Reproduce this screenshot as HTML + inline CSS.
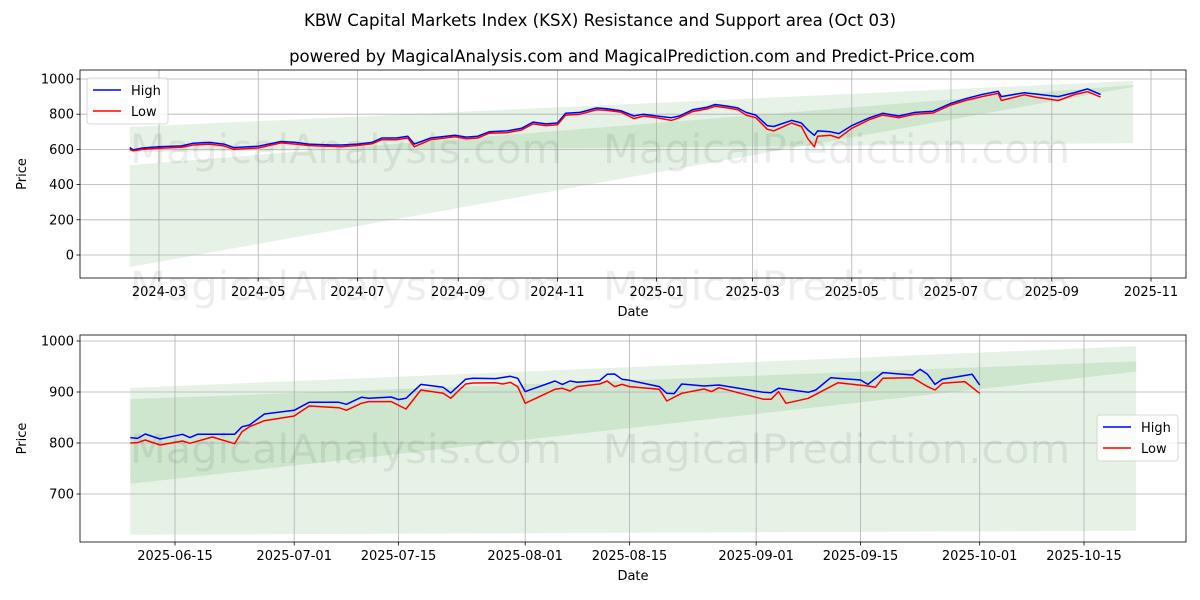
<!DOCTYPE html>
<html><head><meta charset="utf-8"><style>
html,body{margin:0;padding:0;background:#fff;}
svg{display:block;font-family:"DejaVu Sans","Liberation Sans",sans-serif;}
</style></head><body>
<svg id="chart" width="1200" height="600" viewBox="0 0 1200 600" xmlns="http://www.w3.org/2000/svg">
<rect width="1200" height="600" fill="#fff"/>
<text x="600" y="26" text-anchor="middle" font-size="16.6" fill="#000">KBW Capital Markets Index (KSX) Resistance and Support area (Oct 03)</text>
<text x="632" y="62" text-anchor="middle" font-size="16.5" fill="#000">powered by MagicalAnalysis.com and MagicalPrediction.com and Predict-Price.com</text>
<g id="top"></g>
<g id="bot"></g>
</svg>
<script>
// ---- Top panel data ----
const topDates=["2024-02-12","2024-02-14","2024-02-20","2024-03-01","2024-03-15","2024-03-22","2024-04-01","2024-04-10","2024-04-16","2024-04-25","2024-05-01","2024-05-15","2024-05-24","2024-06-01","2024-06-15","2024-06-21","2024-07-01","2024-07-10","2024-07-16","2024-07-25","2024-08-01","2024-08-05","2024-08-15","2024-08-30","2024-09-06","2024-09-13","2024-09-20","2024-10-01","2024-10-10","2024-10-17","2024-10-25","2024-11-01","2024-11-06","2024-11-15","2024-11-25","2024-12-01","2024-12-10","2024-12-18","2024-12-24","2025-01-01","2025-01-10","2025-01-15","2025-01-23","2025-02-01","2025-02-06","2025-02-14","2025-02-20","2025-02-25","2025-03-03","2025-03-10","2025-03-14","2025-03-25","2025-03-31","2025-04-04","2025-04-08","2025-04-10","2025-04-18","2025-04-23","2025-05-01","2025-05-12","2025-05-20","2025-05-30","2025-06-09","2025-06-20","2025-07-01","2025-07-10","2025-07-20","2025-07-30","2025-08-01","2025-08-15","2025-08-22","2025-09-05","2025-09-15","2025-09-23","2025-10-01"];
const topHigh=[610,598,608,615,620,635,640,630,610,615,618,645,640,630,625,625,630,640,665,665,675,630,665,680,670,675,700,705,720,755,745,750,805,810,835,832,820,790,800,790,780,790,825,840,855,845,835,810,795,735,730,765,750,710,680,705,700,690,735,780,805,790,810,817,862,888,912,930,900,922,915,900,923,944,912];
const topLow=[600,592,600,607,612,625,630,620,600,605,608,637,630,622,617,615,622,632,655,655,665,615,655,672,660,665,692,695,710,745,735,740,795,800,825,822,812,775,790,780,765,780,815,830,845,835,825,795,780,715,705,750,730,660,615,675,680,665,720,770,795,780,800,807,852,878,900,918,878,910,897,878,912,928,897];
const topBandDates=["2024-02-12","2025-10-21"];
const topBandAUpper=[727,989];
const topBandALower=[585,636];
const topBandBUpper=[511,966];
const topBandBLower=[-68,955];
const topYTicks=[0,200,400,600,800,1000];
const topXTicks=["2024-03-01","2024-05-01","2024-07-01","2024-09-01","2024-11-01","2025-01-01","2025-03-01","2025-05-01","2025-07-01","2025-09-01","2025-11-01"];
const topXLabels=["2024-03","2024-05","2024-07","2024-09","2024-11","2025-01","2025-03","2025-05","2025-07","2025-09","2025-11"];
// ---- Bottom panel data ----
const highDates=["2025-06-09","2025-06-10","2025-06-11","2025-06-13","2025-06-16","2025-06-17","2025-06-18","2025-06-23","2025-06-24","2025-06-25","2025-06-27","2025-07-01","2025-07-03","2025-07-07","2025-07-08","2025-07-10","2025-07-11","2025-07-14","2025-07-15","2025-07-16","2025-07-18","2025-07-21","2025-07-22","2025-07-24","2025-07-25","2025-07-28","2025-07-30","2025-07-31","2025-08-01","2025-08-05","2025-08-06","2025-08-07","2025-08-08","2025-08-11","2025-08-12","2025-08-13","2025-08-14","2025-08-15","2025-08-19","2025-08-20","2025-08-21","2025-08-22","2025-08-25","2025-08-27","2025-09-02","2025-09-03","2025-09-04","2025-09-08","2025-09-09","2025-09-11","2025-09-15","2025-09-16","2025-09-18","2025-09-22","2025-09-23","2025-09-24","2025-09-25","2025-09-26","2025-09-30","2025-10-01"];
const highVals=[810.5,809,817.7,807.9,817,810.5,817,817,832,835.3,856.9,864.1,879.8,879.8,875.9,889.6,887.6,890.2,885,887.6,915,909.2,898.1,924.9,926.8,926.2,930.8,926.8,900.7,921.6,915,921.6,919,922.3,934.7,935.3,924.9,922.9,910.5,897.4,896.8,915.7,911.8,913.8,899.4,898.7,907.2,899.4,904,928.1,923.6,915,938,933.4,944.5,934.7,915,924.9,934.7,913.8];
const lowDates=["2025-06-09","2025-06-10","2025-06-11","2025-06-13","2025-06-16","2025-06-17","2025-06-20","2025-06-23","2025-06-24","2025-06-25","2025-06-27","2025-07-01","2025-07-03","2025-07-07","2025-07-08","2025-07-10","2025-07-11","2025-07-14","2025-07-16","2025-07-18","2025-07-21","2025-07-22","2025-07-24","2025-07-25","2025-07-28","2025-07-29","2025-07-30","2025-07-31","2025-08-01","2025-08-05","2025-08-06","2025-08-07","2025-08-08","2025-08-11","2025-08-12","2025-08-13","2025-08-14","2025-08-15","2025-08-19","2025-08-20","2025-08-22","2025-08-25","2025-08-26","2025-08-27","2025-09-02","2025-09-03","2025-09-04","2025-09-05","2025-09-08","2025-09-12","2025-09-16","2025-09-17","2025-09-18","2025-09-22","2025-09-24","2025-09-25","2025-09-26","2025-09-29","2025-10-01"];
const lowVals=[800,800.7,805.9,796.1,804,799.4,811.8,798.7,822.3,832,843.8,853,872.6,869.3,864.1,877.8,881.1,881.1,866.7,904,897.4,887.6,915.7,917.7,918.3,915.7,919,910.5,877.8,905.3,907.2,902,910.5,915.7,921.6,910.5,915,910.5,905.3,882.4,897.4,905.9,900.7,908.5,885.7,885.7,900.7,877.8,887.6,918.3,911.8,909.2,926.8,928.1,910.5,904,917,920.3,897.4];
const botBandDates=["2025-06-09","2025-10-22"];
const botBandAUpper=[908,990];
const botBandALower=[620,628];
const botBandBUpper=[886,960];
const botBandBLower=[720,940];
const botYTicks=[700,800,900,1000];
const botXTicks=["2025-06-15","2025-07-01","2025-07-15","2025-08-01","2025-08-15","2025-09-01","2025-09-15","2025-10-01","2025-10-15"];

const NS="http://www.w3.org/2000/svg";
const DAY=86400000;
const t=s=>Date.parse(s+"T00:00:00Z");
function mk(tag,attrs,parent){const e=document.createElementNS(NS,tag);for(const k in attrs)e.setAttribute(k,attrs[k]);parent.appendChild(e);return e;}

function panel(g,cfg){
  const {L,R,T,B,x0,px0,pxPerDay,v0,py0,pxPerUnit}=cfg;
  const X=d=>px0+(t(d)-t(x0))/DAY*pxPerDay;
  const Y=v=>py0-(v-v0)*pxPerUnit;
  function band(dates,up,lo,name){
    const p=`M${X(dates[0])},${Y(up[0])} L${X(dates[1])},${Y(up[1])} L${X(dates[1])},${Y(lo[1])} L${X(dates[0])},${Y(lo[0])} Z`;
    const e=mk('path',{d:p,fill:'green','fill-opacity':0.1},g);
    
    
  }
  band(cfg.bandDates,cfg.aU,cfg.aL,'resistance-band');
  band(cfg.bandDates,cfg.bU,cfg.bL,'support-band');
  cfg.yTicks.forEach(v=>{
    const y=Y(v);
    const gl=mk('line',{x1:L,x2:R,y1:y,y2:y,stroke:'#b0b0b0','stroke-width':0.8},g);
    
    
    mk('line',{x1:L-3.5,x2:L,y1:y,y2:y,stroke:'#000','stroke-width':0.8},g);
    const tx=mk('text',{x:L-6,y:y+4.5,'text-anchor':'end','font-size':13},g);
    tx.textContent=v;
    
    
  });
  cfg.xTicks.forEach((d,i)=>{
    const x=X(d);
    const gl=mk('line',{x1:x,x2:x,y1:T,y2:B,stroke:'#b0b0b0','stroke-width':0.8},g);
    
    
    mk('line',{x1:x,x2:x,y1:B,y2:B+3.5,stroke:'#000','stroke-width':0.8},g);
    const tx=mk('text',{x:x,y:B+18,'text-anchor':'middle','font-size':13},g);
    tx.textContent=cfg.xLabels?cfg.xLabels[i]:d;
    
    
  });
  cfg.wm.forEach(w=>{
    const tx=mk('text',{x:w[0],y:w[1],'font-size':40,fill:'#000','fill-opacity':0.07,textLength:w[3],lengthAdjust:'spacingAndGlyphs'},g);
    tx.textContent=w[2];
    
    
  });
  function line(dates,vals,color,name){
    const d=dates.map((s,i)=>(i?'L':'M')+X(s).toFixed(1)+','+Y(vals[i]).toFixed(1)).join(' ');
    const e=mk('path',{d:d,fill:'none',stroke:color,'stroke-width':1.5,'stroke-linejoin':'round'},g);
    
    
  }
  line(cfg.hD,cfg.hV,'#0000ff','high-line');
  line(cfg.lD,cfg.lV,'#ff0000','low-line');
  const fr=mk('rect',{x:L,y:T,width:R-L,height:B-T,fill:'none',stroke:'#000','stroke-width':0.8},g);
  
  
  const xt=mk('text',{x:(L+R)/2,y:B+38,'text-anchor':'middle','font-size':13},g);
  xt.textContent='Date';
  
  
  const yt=mk('text',{x:0,y:0,'text-anchor':'middle','font-size':13,transform:`translate(26,${(T+B)/2}) rotate(-90)`},g);
  yt.textContent='Price';
  
  
  const [lx,ly]=cfg.leg;
  const lg=mk('g',{},g);
  
  
  mk('rect',{x:lx,y:ly,width:81,height:46,rx:3,fill:'#fff','fill-opacity':0.8,stroke:'#ccc','stroke-width':0.8},lg);
  [['High','#0000ff'],['Low','#ff0000']].forEach((it,i)=>{
    const y=ly+12+i*21;
    mk('line',{x1:lx+6,x2:lx+34,y1:y,y2:y,stroke:it[1],'stroke-width':1.5},lg);
    const tx=mk('text',{x:lx+44,y:y+5,'font-size':13},lg);
    tx.textContent=it[0];
    
    
  });
}

panel(document.getElementById('top'),{L:80,R:1186,T:70,B:278,x0:"2024-03-01",px0:159,pxPerDay:(1151-159)/610,v0:0,py0:255,pxPerUnit:0.176,
  bandDates:topBandDates,aU:topBandAUpper,aL:topBandALower,bU:topBandBUpper,bL:topBandBLower,
  yTicks:topYTicks,xTicks:topXTicks,xLabels:topXLabels,hD:topDates,hV:topHigh,lD:topDates,lV:topLow,
  wm:[[130,163,'MagicalAnalysis.com',432],[603,163,'MagicalPrediction.com',467],[130,300,'MagicalAnalysis.com',432],[603,300,'MagicalPrediction.com',467]],leg:[87,78]});
panel(document.getElementById('bot'),{L:80,R:1186,T:335,B:542,x0:"2025-06-15",px0:175,pxPerDay:(1084-175)/122,v0:900,py0:392,pxPerUnit:0.51,
  bandDates:botBandDates,aU:botBandAUpper,aL:botBandALower,bU:botBandBUpper,bL:botBandBLower,
  yTicks:botYTicks,xTicks:botXTicks,hD:highDates,hV:highVals,lD:lowDates,lV:lowVals,
  wm:[[130,463,'MagicalAnalysis.com',432],[603,463,'MagicalPrediction.com',467]],leg:[1097,415]});
</script>
</body></html>
